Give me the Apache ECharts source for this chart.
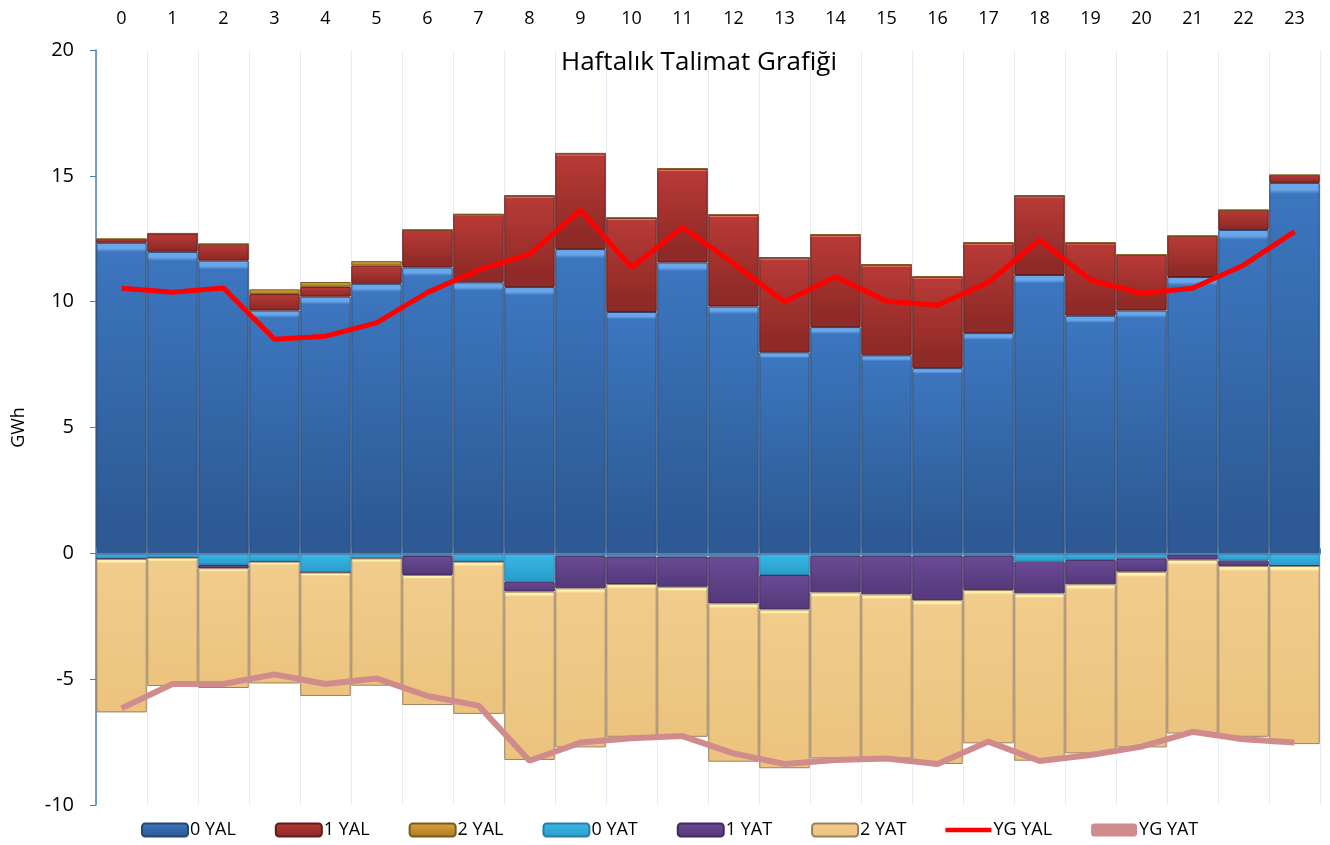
<!DOCTYPE html>
<html>
<head>
<meta charset="utf-8">
<script src="https://cdn.jsdelivr.net/npm/echarts@6/dist/echarts.min.js"></script>
<style>
html,body{margin:0;padding:0;background:#fff;}
#c{width:1330px;height:845px;}
</style>
</head>
<body>
<div id="c"></div>
<script>
var hours = ['0','1','2','3','4','5','6','7','8','9','10','11','12','13','14','15','16','17','18','19','20','21','22','23'];
var yal0 = [12.34,11.98,11.63,9.65,10.20,10.71,11.36,10.77,10.58,12.09,9.59,11.56,9.81,7.99,8.99,7.87,7.36,8.75,11.06,9.44,9.65,10.98,12.85,14.72];
var yal1 = [0.15,0.73,0.66,0.65,0.39,0.72,1.49,2.70,3.63,3.80,3.74,3.72,3.64,3.76,3.67,3.60,3.63,3.59,3.15,2.90,2.21,1.63,0.79,0.31];
var yal2 = [0,0,0,0.19,0.19,0.18,0,0,0,0,0,0,0,0,0,0,0,0,0,0,0,0,0,0];
var yat0 = [-0.22,-0.17,-0.46,-0.33,-0.76,-0.20,-0.10,-0.33,-1.13,-0.10,-0.13,-0.13,-0.13,-0.86,-0.10,-0.10,-0.10,-0.10,-0.33,-0.26,-0.20,-0.05,-0.29,-0.50];
var yat1 = [0,0,-0.13,0,0,0,-0.76,0,-0.39,-1.29,-1.09,-1.20,-1.86,-1.37,-1.45,-1.53,-1.76,-1.36,-1.26,-0.97,-0.53,-0.20,-0.21,0];
var yat2 = [-6.10,-5.10,-4.76,-4.84,-4.91,-5.06,-5.17,-6.05,-6.69,-6.32,-6.07,-5.96,-6.29,-6.31,-6.60,-6.52,-6.51,-6.09,-6.65,-6.72,-6.98,-6.91,-6.79,-7.08];
var ygYal = [10.53,10.37,10.54,8.51,8.63,9.16,10.37,11.26,11.89,13.64,11.36,12.95,11.52,10.00,10.99,10.02,9.86,10.77,12.45,10.86,10.33,10.53,11.45,12.78];
var ygYat = [-6.16,-5.19,-5.19,-4.81,-5.19,-4.97,-5.67,-6.05,-8.24,-7.52,-7.35,-7.26,-7.95,-8.37,-8.21,-8.15,-8.37,-7.48,-8.25,-8.01,-7.68,-7.09,-7.39,-7.52];
var yTicks = [-10,-5,0,5,10,15,20];

var FONT = 'Open Sans';
function grad(c1, c2, c3){
  return {type:'linear',x:0,y:0,x2:0,y2:1,colorStops:[
    {offset:0,color:c1},{offset:0.018,color:c1},{offset:0.03,color:c2},{offset:0.9,color:c3},{offset:1,color:c3}]};
}
function barSeries(name, data, top, mid, bot, border){
  return {
    name:name, type:'bar', stack:'s', data:data, xAxisIndex:0,
    barCategoryGap:'1%',
    itemStyle:{color:grad(top,mid,bot), borderColor:border, borderWidth:1},
    emphasis:{disabled:true}
  };
}
var chart = echarts.init(document.getElementById('c'), null, {renderer:'canvas'});
chart.setOption({
  animation:false,
  backgroundColor:'#ffffff',
  title:{
    text:'Haftalık Talimat Grafiği', left:556, top:45,
    textStyle:{fontFamily:FONT, fontSize:26, fontWeight:'normal', color:'#000'}
  },
  grid:{left:96, right:10, top:50, bottom:40, containLabel:false},
  legend:{
    bottom:1, left:136, itemWidth:46, itemHeight:13, itemGap:39,
    textStyle:{fontFamily:FONT, fontSize:18, color:'#000', padding:[0,0,0,-3]},
    data:['0 YAL','1 YAL','2 YAL','0 YAT','1 YAT','2 YAT',
      {name:'YG YAL', icon:'path://M0,0 L10,0 L10,1 L0,1 Z'},
      {name:'YG YAT', icon:'roundRect'}]
  },
  xAxis:[
    {type:'category', data:hours, position:'top',
     axisLine:{show:false, onZero:false}, axisTick:{show:false},
     axisLabel:{fontFamily:FONT, fontSize:18, color:'#000', margin:22},
     splitLine:{show:true, lineStyle:{color:'#e6edf6', width:1}}},
    {type:'category', data:hours, position:'bottom', z:10,
     axisLine:{show:true, onZero:true, lineStyle:{color:'#4a7ebb', width:1.5}},
     axisTick:{show:true, inside:true, length:5, lineStyle:{color:'#4a7ebb'}},
     axisLabel:{show:false}, splitLine:{show:false}}
  ],
  yAxis:{
    type:'value', min:yTicks[0], max:yTicks[yTicks.length-1], interval:5,
    name:'GWh', nameLocation:'middle', nameGap:68, nameRotate:90,
    nameTextStyle:{fontFamily:FONT, fontSize:18, color:'#000'},
    axisLine:{show:true, lineStyle:{color:'#4a7ebb', width:1.5}},
    axisTick:{show:true, length:6, lineStyle:{color:'#4a7ebb'}},
    axisLabel:{fontFamily:FONT, fontSize:20, color:'#000', margin:22},
    splitLine:{show:false}
  },
  series:[
    barSeries('0 YAL', yal0, '#6aa6ea', '#3c76bf', '#2d5a94', '#24466f'),
    barSeries('1 YAL', yal1, '#e86a6a', '#b83a36', '#8e2a27', '#5e1c1a'),
    barSeries('2 YAL', yal2, '#f0c060', '#d9a23a', '#b07f24', '#7a5a1a'),
    barSeries('0 YAT', yat0, '#7fe6f5', '#3ab8e6', '#2a9fcc', '#2a7ea8'),
    barSeries('1 YAT', yat1, '#a58ad0', '#6b4a95', '#563a7c', '#3e2a5c'),
    barSeries('2 YAT', yat2, '#fff0b0', '#f1cc8a', '#ecc480', '#9a8060'),
    {name:'YG YAL', type:'line', data:ygYal, xAxisIndex:0, symbol:'none', z:5,
     lineStyle:{color:'#ff0000', width:5}, itemStyle:{color:'#ff0000'}},
    {name:'YG YAT', type:'line', data:ygYat, xAxisIndex:0, symbol:'none', z:5,
     lineStyle:{color:'#d08c8c', width:6}, itemStyle:{color:'#d08c8c'}}
  ]
});
</script>
</body>
</html>
